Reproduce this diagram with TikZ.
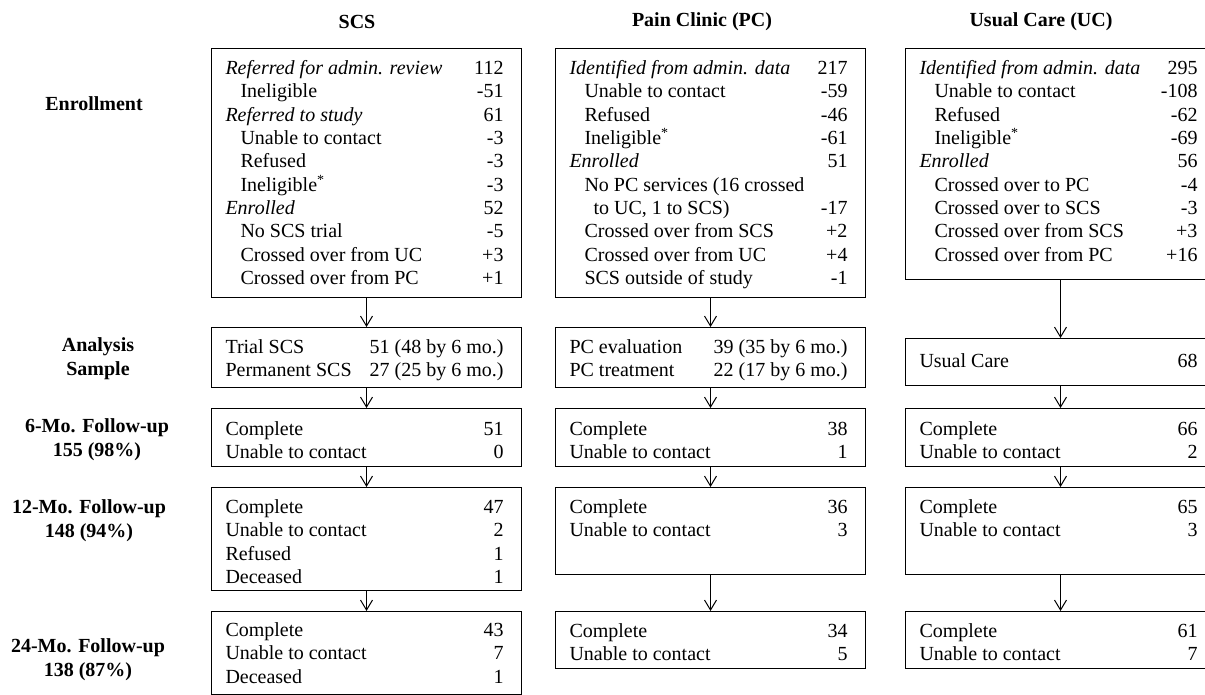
\documentclass[tikz,border=0pt]{standalone}
\usepackage{fontspec}
\setmainfont{Liberation Serif}
\usetikzlibrary{arrows.meta}

\newcommand{\ind}{\hspace*{7.5pt}}
\newcommand{\boxrows}[1]{\begin{tabular*}{141pt}[t]{@{}l@{\extracolsep{\fill}}r@{\hspace{2pt}}}#1\end{tabular*}}

\begin{document}
\begin{tikzpicture}[x=0.5pt, y=-0.5pt, line width=0.5pt]
	\tikzset{stage/.style={draw, anchor=north west, inner xsep=7pt, inner ysep=0pt, minimum width=155pt, text height=13pt, text depth=#1, font=\fontsize{10}{11.67}\selectfont}}
	\tikzset{next/.style={-{Straight Barb[length=5pt, width=6pt]}}}
	\tikzset{phase/.style={font=\fontsize{10}{12}\selectfont\bfseries, align=center}}
	\useasboundingbox (0,0) rectangle (1205,695);
	\clip (0,0) rectangle (1205,695);
	% column heads
	\node [phase] (hdrSCS) at (357, 22) {SCS};
	\node [phase] (hdrPC) at (702, 22) {Pain Clinic (PC)};
	\node [phase] (hdrUC) at (1041, 22) {Usual Care (UC)};
	% row heads
	\node [phase] (lblEnrol) at (94, 104) {Enrollment};
	\node [phase] (lblSample) at (98, 359) {Analysis\\Sample};
	\node [phase] (lblSix) at (97, 440) {6-Mo. Follow-up\\155 (98\%)};
	\node [phase] (lblTwelve) at (89, 521) {12-Mo. Follow-up\\148 (94\%)};
	\node [phase] (lblTwentyfour) at (88, 660) {24-Mo. Follow-up\\138 (87\%)};
	% SCS
	\node [stage=111.5pt] (scs1) at (211, 48) {\boxrows{
		\textit{Referred for admin. review} & 112 \\
		\ind Ineligible & -51 \\
		\textit{Referred to study} & 61 \\
		\ind Unable to contact & -3 \\
		\ind Refused & -3 \\
		\ind Ineligible\textsuperscript{*} & -3 \\
		\textit{Enrolled} & 52 \\
		\ind No SCS trial & -5 \\
		\ind Crossed over from UC & +3 \\
		\ind Crossed over from PC & +1}};
	\node [stage=17pt] (scs2) at (211, 327) {\boxrows{
		Trial SCS & 51 (48 by 6 mo.) \\
		Permanent SCS & 27 (25 by 6 mo.)}};
	\node [stage=15.5pt, text height=13.5pt] (scs3) at (211, 408) {\boxrows{
		Complete & 51 \\
		Unable to contact & 0}};
	\node [stage=38.5pt] (scs4) at (211, 487) {\boxrows{
		Complete & 47 \\
		Unable to contact & 2 \\
		Refused & 1 \\
		Deceased & 1}};
	\node [stage=29pt, text height=12.5pt] (scs5) at (211, 611) {\boxrows{
		Complete & 43 \\
		Unable to contact & 7 \\
		Deceased & 1}};
	% PC
	\node [stage=111.5pt] (pc1) at (555, 48) {\boxrows{
		\textit{Identified from admin. data} & 217 \\
		\ind Unable to contact & -59 \\
		\ind Refused & -46 \\
		\ind Ineligible\textsuperscript{*} & -61 \\
		\textit{Enrolled} & 51 \\
		\ind No PC services (16 crossed & \\
		\hspace*{12pt}to UC, 1 to SCS) & -17 \\
		\ind Crossed over from SCS & +2 \\
		\ind Crossed over from UC & +4 \\
		\ind SCS outside of study & -1}};
	\node [stage=17pt] (pc2) at (555, 327) {\boxrows{
		PC evaluation & 39 (35 by 6 mo.) \\
		PC treatment & 22 (17 by 6 mo.)}};
	\node [stage=15.5pt, text height=13.5pt] (pc3) at (555, 408) {\boxrows{
		Complete & 38 \\
		Unable to contact & 1}};
	\node [stage=30.5pt] (pc4) at (555, 487) {\boxrows{
		Complete & 36 \\
		Unable to contact & 3}};
	\node [stage=15.5pt] (pc5) at (555, 611) {\boxrows{
		Complete & 34 \\
		Unable to contact & 5}};
	% UC
	\node [stage=102.5pt] (uc1) at (905, 48) {\boxrows{
		\textit{Identified from admin. data} & 295 \\
		\ind Unable to contact & -108 \\
		\ind Refused & -62 \\
		\ind Ineligible\textsuperscript{*} & -69 \\
		\textit{Enrolled} & 56 \\
		\ind Crossed over to PC & -4 \\
		\ind Crossed over to SCS & -3 \\
		\ind Crossed over from SCS & +3 \\
		\ind Crossed over from PC & +16}};
	\node [stage=9pt, text height=14.5pt] (uc2) at (905, 338) {\boxrows{
		Usual Care & 68}};
	\node [stage=15.5pt, text height=13.5pt] (uc3) at (905, 408) {\boxrows{
		Complete & 66 \\
		Unable to contact & 2}};
	\node [stage=30.5pt] (uc4) at (905, 487) {\boxrows{
		Complete & 65 \\
		Unable to contact & 3}};
	\node [stage=15.5pt] (uc5) at (905, 611) {\boxrows{
		Complete & 61 \\
		Unable to contact & 7}};
	% arrows
	\draw [next] (scs1.south) -- (scs2.north);
	\draw [next] (scs2.south) -- (scs3.north);
	\draw [next] (scs3.south) -- (scs4.north);
	\draw [next] (scs4.south) -- (scs5.north);
	\draw [next] (pc1.south) -- (pc2.north);
	\draw [next] (pc2.south) -- (pc3.north);
	\draw [next] (pc3.south) -- (pc4.north);
	\draw [next] (pc4.south) -- (pc5.north);
	\draw [next] (uc1.south) -- (uc2.north);
	\draw [next] (uc2.south) -- (uc3.north);
	\draw [next] (uc3.south) -- (uc4.north);
	\draw [next] (uc4.south) -- (uc5.north);
\end{tikzpicture}
\end{document}
